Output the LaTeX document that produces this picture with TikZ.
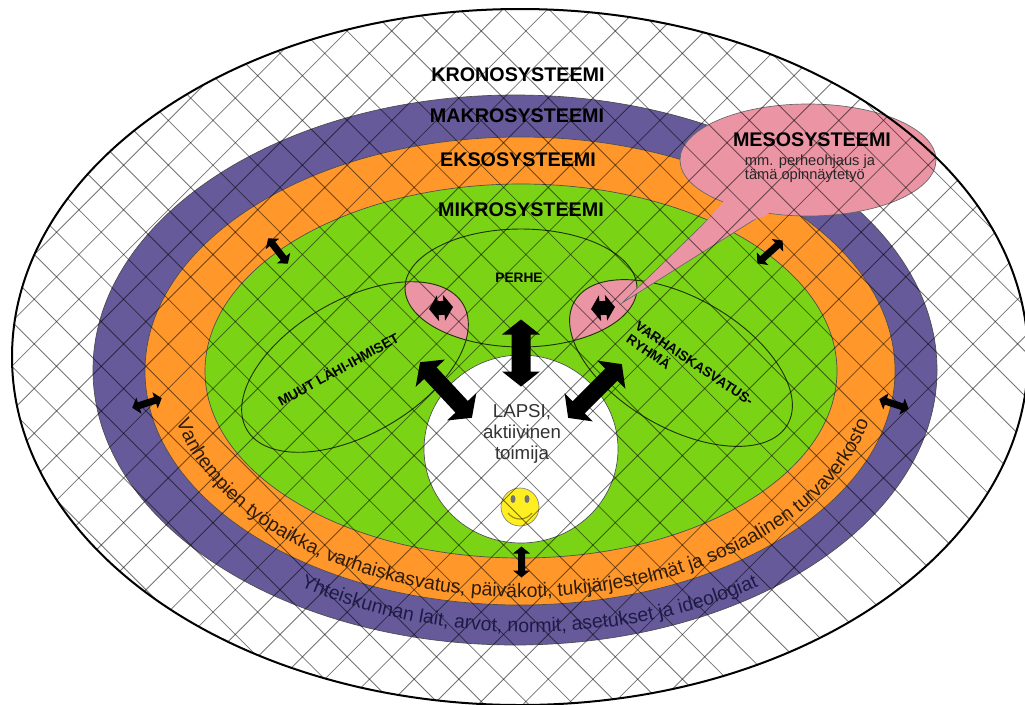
\documentclass[tikz,border=0pt]{standalone}
\usepackage{fontspec}
\setmainfont{Liberation Sans}
\usetikzlibrary{decorations.text}
\definecolor{kpurple}{HTML}{665A9A}
\definecolor{korange}{HTML}{FF972B}
\definecolor{kgreen}{HTML}{7BD316}
\definecolor{kpink}{HTML}{EB94A4}
\definecolor{kyellow}{HTML}{FFEE22}
\definecolor{kpurpletext}{HTML}{1E1A46}
\definecolor{korangetext}{HTML}{2E1C08}
\tikzset{
  band/.style={draw=black!70!white,line width=0.5pt},
  thinell/.style={draw=black!75!kgreen,line width=0.7pt},
  hatchline/.style={draw=black,opacity=0.55,line width=0.6pt},
  sysl/.style={font=\fontsize{14.8}{16}\selectfont\bfseries,inner sep=0pt},
  smalll/.style={font=\fontsize{10.3}{12}\selectfont\bfseries,inner sep=0pt},
}
% arrow: centre x, centre y, page angle, half length, head length, half head width, half shaft width
\newcommand{\dblarrow}[7]{%
  \fill[black,shift={(#1,#2)},rotate=#3,x=0.75pt,y=0.75pt]
   (-#4,0) -- (-#4+#5,#6) -- (-#4+#5,#7) -- (#4-#5,#7) -- (#4-#5,#6) -- (#4,0)
   -- (#4-#5,-#6) -- (#4-#5,-#7) -- (-#4+#5,-#7) -- (-#4+#5,-#6) -- cycle;}
\begin{document}
\begin{tikzpicture}[x=0.75pt,y=-0.75pt]
\useasboundingbox (0,0) rectangle (1025,704);
\fill[white] (0,0) rectangle (1025,704);
% rings
\fill[white] (520,357) ellipse [x radius=508,y radius=348];
\fill[kpurple,band] (515,370) ellipse [x radius=422,y radius=275];
\fill[korange,band] (520,371) ellipse [x radius=375,y radius=234];
\fill[kgreen,band] (521,371) ellipse [x radius=316,y radius=187];
\fill[white,band] (521,449) ellipse [x radius=97,y radius=94];
% lenses
\begin{scope}
  \clip (521,288) ellipse [x radius=116,y radius=59];
  \fill[kpink,rotate around={30:(355,367)}] (355,367) ellipse [x radius=125,y radius=67];
  \fill[kpink,rotate around={-30:(681,363)}] (681,363) ellipse [x radius=123,y radius=65];
\end{scope}
% ellipses
\draw[thinell] (521,288) ellipse [x radius=116,y radius=59];
\draw[thinell,rotate around={30:(355,367)}] (355,367) ellipse [x radius=125,y radius=67];
\draw[thinell,rotate around={-30:(681,363)}] (681,363) ellipse [x radius=123,y radius=65];
% callout
\fill[kpink] (725,203) -- (622,303) -- (765,213) -- cycle;
\draw[band,draw=black!60] (725,203) -- (622,303) -- (765,213);
\draw[band,draw=black!60,fill=kpink] (808,160) ellipse [x radius=128,y radius=56];
\fill[kpink] (725,200) -- (690,240) -- (765,216) -- (780,205) -- cycle;
% arrows
\dblarrow{521}{353}{90}{33.5}{15}{19}{9.5}
\dblarrow{446}{390}{-47}{38}{15}{20}{8.5}
\dblarrow{595}{391}{45}{38}{15}{20}{8.5}
\dblarrow{441}{308}{5}{12}{9}{13}{7}
\dblarrow{603}{308}{5}{12}{9}{13}{7}
\dblarrow{278}{251}{-52}{16}{7}{8.5}{3.5}
\dblarrow{770}{252}{42}{17}{7}{8.5}{3.5}
\dblarrow{147}{403}{18}{15.5}{7}{8.5}{3.5}
\dblarrow{894}{404}{-18}{15.5}{7}{8.5}{3.5}
\dblarrow{521.5}{562}{90}{15.5}{7}{8.5}{3.5}
% smiley
\draw[draw=black!50,fill=kyellow,line width=0.5pt] (520,507) circle [radius=19];
\fill[black!55] (513,499) ellipse [x radius=2.5,y radius=4];
\fill[black!55] (527,499) ellipse [x radius=2.5,y radius=4];
\draw[black!40!kyellow,line width=0.9pt] (508,513) .. controls (514,521) and (526,521) .. (532,513);
% hatching
\begin{scope}
  \clip (520,357) ellipse [x radius=508,y radius=348];
  \foreach \k in {-20,...,20} {
    \pgfmathsetmacro{\c}{182+44.7*\k}
    \draw[hatchline] ({\c},0) -- ({\c+704},704);
  }
  \foreach \k in {-5,...,30} {
    \pgfmathsetmacro{\c}{1138-44.7*\k}
    \draw[hatchline] ({\c},0) -- ({\c-704},704);
  }
\end{scope}
\draw[black,line width=1.5pt] (520,357) ellipse [x radius=508,y radius=348];
% labels
\node[sysl] (kro) at (518,75) {KRONOSYSTEEMI};
\node[sysl] (mak) at (517,116) {MAKROSYSTEEMI};
\node[sysl] (eks) at (518,160) {EKSOSYSTEEMI};
\node[sysl] (mik) at (521,210) {MIKROSYSTEEMI};
\node[sysl] (mes) at (812,140) {MESOSYSTEEMI};
\node[inner sep=0pt,align=left,font=\fontsize{11}{10.5}\selectfont,text=black!85] (mes2) at (810,169) {mm. perheohjaus ja\\tämä opinnäytetyö};
\node[smalll] (per) at (519,278) {PERHE};
\node[smalll,rotate=29] (muu) at (338,369) {MUUT LÄHI-IHMISET};
\node[smalll,rotate=-34,align=left] (var) at (690,370) {VARHAISKASVATUS-\\RYHMÄ};
\node[inner sep=0pt,align=center,font=\fontsize{14}{15.5}\selectfont,text=black!80] (lap) at (522,434) {LAPSI,\\aktiivinen\\toimija};
% curved texts
\newcommand{\ofont}{\fontsize{14.6}{16}\selectfont}
\path[decorate,decoration={text along path,text align=center,
  text={|\ofont\color{korangetext}|Vanhempien työpaikka, varhaiskasvatus, päiväkoti, tukijärjestelmät ja sosiaalinen turvaverkosto}}]
  (169,391) arc [start angle=175,end angle=5,x radius=355,y radius=226];
\path[decorate,decoration={text along path,text align=center,
  text={|\ofont\color{kpurpletext}|Yhteiskunnan lait, arvot, normit, asetukset ja ideologiat}}]
  (126,393) arc [start angle=175,end angle=5,x radius=405,y radius=262];
\end{tikzpicture}
\end{document}
